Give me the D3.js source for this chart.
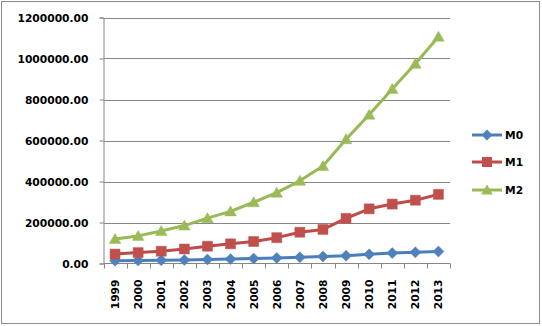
<!DOCTYPE html>
<html>
<head>
<meta charset="utf-8">
<script src="https://cdn.jsdelivr.net/npm/d3@7"></script>
<style>
  html, body { margin: 0; padding: 0; background: #fff; }
  svg { display: block; }
  text { font-family: "DejaVu Sans", sans-serif; font-weight: bold; fill: #000; }
</style>
</head>
<body>
<svg id="chart" width="542" height="326"></svg>
<script>
// Money supply by year (100 million yuan)
const years = ["1999","2000","2001","2002","2003","2004","2005","2006","2007","2008","2009","2010","2011","2012","2013"];
const m0 = [13455.5, 14652.7, 15688.8, 17278.0, 19746.0, 21468.3, 24031.7, 27072.6, 30375.2, 34219.0, 38246.0, 44628.2, 50748.5, 54659.8, 58574.4];
const m1 = [45837.3, 53147.2, 59871.6, 70881.8, 84118.6, 95969.7, 107278.8, 126035.1, 152560.1, 166217.1, 220001.5, 266621.5, 289847.7, 308664.2, 337291.1];
const m2 = [119897.9, 134610.3, 158301.9, 185007.0, 221222.8, 254107.0, 298755.7, 345603.6, 403442.2, 475166.6, 606225.0, 725851.8, 851590.9, 974148.8, 1106525.0];
const seriesNames = ["M0", "M1", "M2"];
const yTicks = [0, 200000, 400000, 600000, 800000, 1000000, 1200000];

const series = [
  { name: seriesNames[0], values: m0, line: "#4A7EBB", fill: "#4F81BD", shape: "diamond" },
  { name: seriesNames[1], values: m1, line: "#BE4B48", fill: "#C0504D", shape: "square" },
  { name: seriesNames[2], values: m2, line: "#98B954", fill: "#9BBB59", shape: "triangle" }
];

const svg = d3.select("#chart");
const plot = { left: 103.5, right: 450, top: 17.5, bottom: 263.5 };

// Outer chart frame
svg.append("rect")
  .attr("x", 1.5).attr("y", 1.5).attr("width", 538).attr("height", 322)
  .attr("fill", "#fff").attr("stroke", "#8c8c8c").attr("stroke-width", 1);

const x = d3.scaleBand().domain(years).range([plot.left, plot.right]).padding(0);
const y = d3.scaleLinear().domain([0, 1200000]).range([plot.bottom, plot.top]);
const cx = d => x(d) + x.bandwidth() / 2;

const gridColor = "#868686";

// Horizontal gridlines
svg.append("g").selectAll("line").data(yTicks.filter(t => t > 0)).join("line")
  .attr("x1", plot.left).attr("x2", plot.right)
  .attr("y1", d => Math.round(y(d)) + 0.5).attr("y2", d => Math.round(y(d)) + 0.5)
  .attr("stroke", gridColor).attr("stroke-width", 1);

// Y axis with outside tick marks
const yAxis = d3.axisLeft(y).tickValues(yTicks).tickSize(4).tickPadding(11)
  .tickFormat(d => d3.format(".2f")(d));
const gy = svg.append("g").attr("transform", `translate(${plot.left},0)`).call(yAxis);
gy.select(".domain").attr("stroke", gridColor);
gy.selectAll(".tick line").attr("stroke", gridColor);
gy.selectAll(".tick text").attr("font-size", "10.7px").attr("font-family", "DejaVu Sans").attr("fill", "#000").attr("dy", "0.35em");

// X axis: ticks at category boundaries, rotated year labels
const gx = svg.append("g");
gx.append("line")
  .attr("x1", plot.left).attr("x2", plot.right)
  .attr("y1", plot.bottom).attr("y2", plot.bottom)
  .attr("stroke", gridColor);
const bounds = years.map(d => x(d)).concat([x(years[years.length - 1]) + x.bandwidth()]);
gx.selectAll("line.tk").data(bounds).join("line").attr("class", "tk")
  .attr("x1", d => Math.round(d) + 0.5).attr("x2", d => Math.round(d) + 0.5)
  .attr("y1", plot.bottom).attr("y2", plot.bottom + 5)
  .attr("stroke", gridColor);
gx.selectAll("text").data(years).join("text")
  .attr("transform", d => `translate(${cx(d) + 4},${plot.bottom + 16}) rotate(-90)`)
  .attr("text-anchor", "end")
  .attr("font-size", "10.7px")
  .text(d => d);

// Marker path generator
function markerPath(shape) {
  if (shape === "diamond") return "M0,-5.5L5.5,0L0,5.5L-5.5,0Z";
  if (shape === "square") return "M-5,-5H5V5H-5Z";
  return "M0,-5.5L5.8,4.5H-5.8Z";
}

const line = d3.line().x((d, i) => cx(years[i])).y(d => y(d));

series.forEach(s => {
  const g = svg.append("g");
  g.append("path").datum(s.values)
    .attr("d", line).attr("fill", "none")
    .attr("stroke", s.line).attr("stroke-width", 3).attr("stroke-linejoin", "round");
  g.selectAll("path.mk").data(s.values).join("path").attr("class", "mk")
    .attr("d", markerPath(s.shape))
    .attr("transform", (d, i) => `translate(${cx(years[i])},${y(d)})`)
    .attr("fill", s.fill).attr("stroke", s.fill).attr("stroke-width", 0.5);
});

// Legend
const legendY = [135, 162, 190];
const lg = svg.append("g");
series.forEach((s, i) => {
  const ly = legendY[i];
  lg.append("line").attr("x1", 472).attr("x2", 502).attr("y1", ly).attr("y2", ly)
    .attr("stroke", s.line).attr("stroke-width", 3);
  lg.append("path").attr("d", markerPath(s.shape))
    .attr("transform", `translate(487,${ly})`).attr("fill", s.fill);
  lg.append("text").attr("x", 505).attr("y", ly).attr("dy", "0.36em")
    .attr("font-size", "10.7px").text(s.name);
});
</script>
</body>
</html>
